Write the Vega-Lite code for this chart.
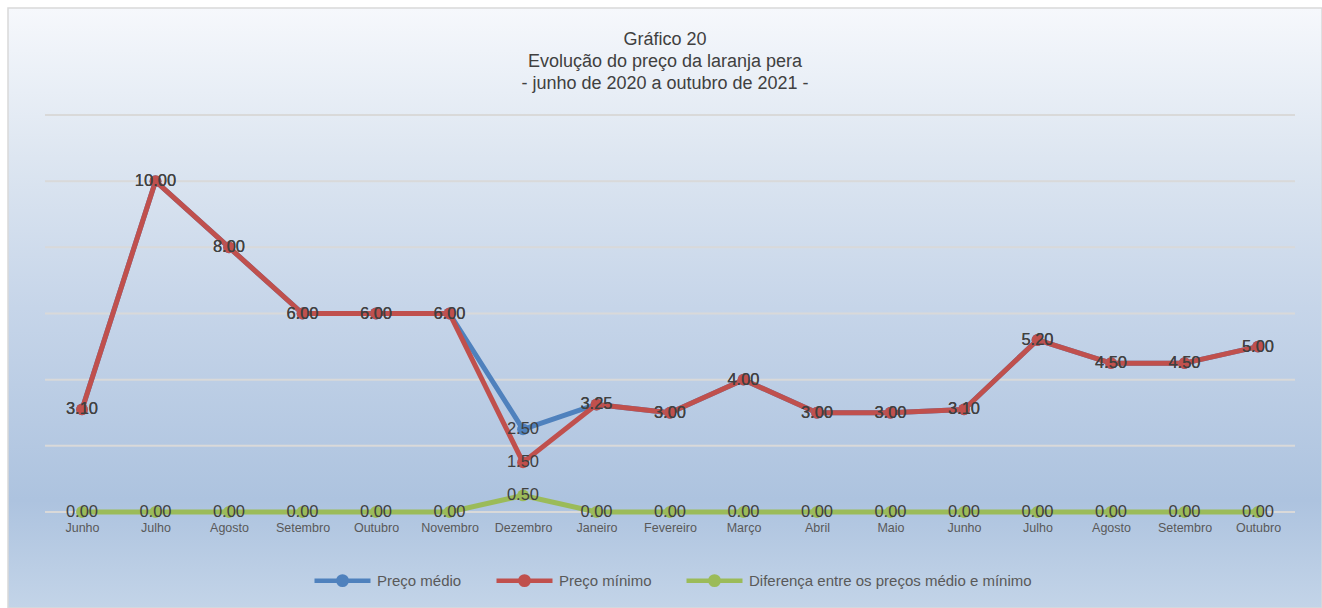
{
  "$schema": "https://vega.github.io/schema/vega-lite/v6.json",
  "width": 1314,
  "height": 600,
  "autosize": {"type": "none"},
  "padding": {"left": 8, "top": 8, "right": 0, "bottom": 0},
  "background": "#ffffff",
  "config": {
    "view": {
      "fill": {"gradient": "linear", "x1": 0, "y1": 0, "x2": 0, "y2": 1,
        "stops": [
          {"offset": 0, "color": "#f6f8fc"},
          {"offset": 0.25, "color": "#dde6f1"},
          {"offset": 0.5, "color": "#c6d5e9"},
          {"offset": 0.82, "color": "#adc3df"},
          {"offset": 1, "color": "#c3d4e8"}
        ]},
      "stroke": "#d9d9d9",
      "strokeWidth": 1.5
    },
    "font": "Liberation Sans"
  },
  "title": {
    "text": ["Gráfico 20", "Evolução do preço da laranja pera", "- junho de 2020 a outubro de 2021 -"],
    "fontSize": 18,
    "fontWeight": "normal",
    "color": "#404040",
    "lineHeight": 22,
    "anchor": "middle",
    "frame": "group",
    "baseline": "top",
    "offset": -85
  },
  "layer": [
    {
      "data": {"values": [{"g": 0}, {"g": 2}, {"g": 4}, {"g": 6}, {"g": 8}, {"g": 10}, {"g": 12}]},
      "mark": {"type": "rule", "color": "#d9d9d9", "strokeWidth": 2},
      "encoding": {
        "x": {"datum": 0, "type": "quantitative", "scale": {"domain": [0, 1], "range": [37, 1287]}, "axis": null},
        "x2": {"datum": 1},
        "y": {"field": "g", "type": "quantitative", "scale": {"domain": [0, 12], "range": [504, 107]}, "axis": null}
      }
    },
    {
      "data": {"values": [
        {"mes": "Junho 2020", "serie": "Preço médio", "valor": 3.10},
        {"mes": "Junho 2020", "serie": "Preço mínimo", "valor": 3.10},
        {"mes": "Junho 2020", "serie": "Diferença entre os preços médio e mínimo", "valor": 0},
        {"mes": "Julho 2020", "serie": "Preço médio", "valor": 10.00},
        {"mes": "Julho 2020", "serie": "Preço mínimo", "valor": 10.00},
        {"mes": "Julho 2020", "serie": "Diferença entre os preços médio e mínimo", "valor": 0},
        {"mes": "Agosto 2020", "serie": "Preço médio", "valor": 8.00},
        {"mes": "Agosto 2020", "serie": "Preço mínimo", "valor": 8.00},
        {"mes": "Agosto 2020", "serie": "Diferença entre os preços médio e mínimo", "valor": 0},
        {"mes": "Setembro 2020", "serie": "Preço médio", "valor": 6.00},
        {"mes": "Setembro 2020", "serie": "Preço mínimo", "valor": 6.00},
        {"mes": "Setembro 2020", "serie": "Diferença entre os preços médio e mínimo", "valor": 0},
        {"mes": "Outubro 2020", "serie": "Preço médio", "valor": 6.00},
        {"mes": "Outubro 2020", "serie": "Preço mínimo", "valor": 6.00},
        {"mes": "Outubro 2020", "serie": "Diferença entre os preços médio e mínimo", "valor": 0},
        {"mes": "Novembro 2020", "serie": "Preço médio", "valor": 6.00},
        {"mes": "Novembro 2020", "serie": "Preço mínimo", "valor": 6.00},
        {"mes": "Novembro 2020", "serie": "Diferença entre os preços médio e mínimo", "valor": 0},
        {"mes": "Dezembro 2020", "serie": "Preço médio", "valor": 2.50},
        {"mes": "Dezembro 2020", "serie": "Preço mínimo", "valor": 1.50},
        {"mes": "Dezembro 2020", "serie": "Diferença entre os preços médio e mínimo", "valor": 0.50},
        {"mes": "Janeiro 2021", "serie": "Preço médio", "valor": 3.25},
        {"mes": "Janeiro 2021", "serie": "Preço mínimo", "valor": 3.25},
        {"mes": "Janeiro 2021", "serie": "Diferença entre os preços médio e mínimo", "valor": 0},
        {"mes": "Fevereiro 2021", "serie": "Preço médio", "valor": 3.00},
        {"mes": "Fevereiro 2021", "serie": "Preço mínimo", "valor": 3.00},
        {"mes": "Fevereiro 2021", "serie": "Diferença entre os preços médio e mínimo", "valor": 0},
        {"mes": "Março 2021", "serie": "Preço médio", "valor": 4.00},
        {"mes": "Março 2021", "serie": "Preço mínimo", "valor": 4.00},
        {"mes": "Março 2021", "serie": "Diferença entre os preços médio e mínimo", "valor": 0},
        {"mes": "Abril 2021", "serie": "Preço médio", "valor": 3.00},
        {"mes": "Abril 2021", "serie": "Preço mínimo", "valor": 3.00},
        {"mes": "Abril 2021", "serie": "Diferença entre os preços médio e mínimo", "valor": 0},
        {"mes": "Maio 2021", "serie": "Preço médio", "valor": 3.00},
        {"mes": "Maio 2021", "serie": "Preço mínimo", "valor": 3.00},
        {"mes": "Maio 2021", "serie": "Diferença entre os preços médio e mínimo", "valor": 0},
        {"mes": "Junho 2021", "serie": "Preço médio", "valor": 3.10},
        {"mes": "Junho 2021", "serie": "Preço mínimo", "valor": 3.10},
        {"mes": "Junho 2021", "serie": "Diferença entre os preços médio e mínimo", "valor": 0},
        {"mes": "Julho 2021", "serie": "Preço médio", "valor": 5.20},
        {"mes": "Julho 2021", "serie": "Preço mínimo", "valor": 5.20},
        {"mes": "Julho 2021", "serie": "Diferença entre os preços médio e mínimo", "valor": 0},
        {"mes": "Agosto 2021", "serie": "Preço médio", "valor": 4.50},
        {"mes": "Agosto 2021", "serie": "Preço mínimo", "valor": 4.50},
        {"mes": "Agosto 2021", "serie": "Diferença entre os preços médio e mínimo", "valor": 0},
        {"mes": "Setembro 2021", "serie": "Preço médio", "valor": 4.50},
        {"mes": "Setembro 2021", "serie": "Preço mínimo", "valor": 4.50},
        {"mes": "Setembro 2021", "serie": "Diferença entre os preços médio e mínimo", "valor": 0},
        {"mes": "Outubro 2021", "serie": "Preço médio", "valor": 5.00},
        {"mes": "Outubro 2021", "serie": "Preço mínimo", "valor": 5.00},
        {"mes": "Outubro 2021", "serie": "Diferença entre os preços médio e mínimo", "valor": 0}
      ]},
      "encoding": {
        "x": {
          "field": "mes", "type": "nominal", "sort": null,
          "scale": {"type": "point", "range": [74, 1250], "padding": 0},
          "axis": {
            "orient": "bottom", "offset": -96, "title": null,
            "domain": false, "ticks": false, "grid": false,
            "labelAngle": 0, "labelPadding": 9, "labelFontSize": 12.5,
            "labelColor": "#595959", "labelFont": "Liberation Sans",
            "labelExpr": "split(datum.label, ' ')[0]"
          }
        },
        "y": {"field": "valor", "type": "quantitative"},
        "color": {
          "field": "serie", "type": "nominal",
          "scale": {
            "domain": ["Preço médio", "Preço mínimo", "Diferença entre os preços médio e mínimo"],
            "range": ["#4f81bd", "#c0504d", "#9bbb59"]
          },
          "legend": {
            "orient": "none", "direction": "horizontal", "title": null,
            "legendX": 304, "legendY": 542,
            "symbolType": "M-1,0H1M0.15,0A0.15,0.15,0,1,1,-0.15,0A0.15,0.15,0,1,1,0.15,0",
            "symbolSize": 3136, "symbolStrokeWidth": 4.5,
            "labelFontSize": 15, "labelColor": "#595959", "labelOffset": 4,
            "labelLimit": 500,
            "columnPadding": 25,
            "encode": {"symbols": {"update": {
              "fill": {"scale": "color", "field": "value"},
              "stroke": {"scale": "color", "field": "value"},
              "opacity": {"value": 1}
            }}}
          }
        },
        "order": {"field": "serie"}
      },
      "layer": [
        {"mark": {"type": "line", "strokeWidth": 5, "strokeCap": "round", "strokeJoin": "round"}, "encoding": {"detail": {"field": "serie"}}},
        {"mark": {"type": "point", "filled": true, "size": 140, "opacity": 1, "shape": "circle"}},
        {"mark": {"type": "text", "fontSize": 16.5, "color": "#404040", "align": "center", "baseline": "middle"},
         "encoding": {"text": {"field": "valor", "type": "quantitative", "format": ".2f"}, "color": {"value": "#404040"}}}
      ]
    }
  ],
  "resolve": {"scale": {"x": "independent"}, "axis": {"x": "independent"}}
}
